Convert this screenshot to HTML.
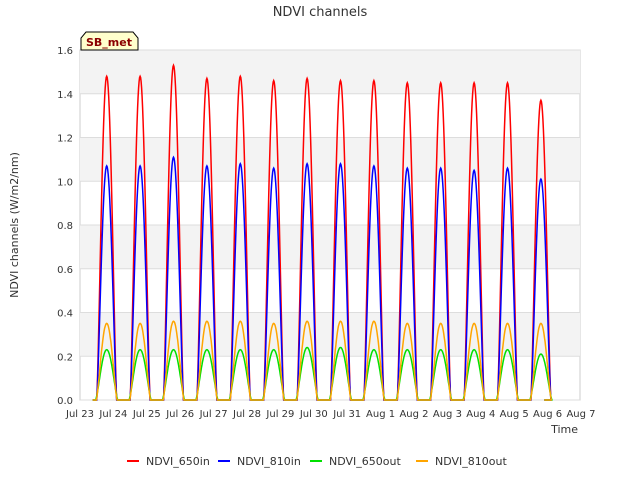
<!DOCTYPE html>
<html><head><meta charset="utf-8"><style>
body{margin:0;background:#fff;font-family:"Liberation Sans","DejaVu Sans",sans-serif;}
svg text{font-family:"DejaVu Sans","Liberation Sans",sans-serif;}
</style></head><body>
<svg id="c" width="640" height="480" xmlns="http://www.w3.org/2000/svg">
<text x="320" y="16" text-anchor="middle" font-size="13" fill="#333">NDVI channels</text>
<rect x="80" y="50" width="500" height="350" fill="#fff" stroke="#ccc"/>
<g id="grid"></g>
<g id="series"></g>
<g id="axes"></g>
<text x="18" y="225" transform="rotate(-90 18 225)" text-anchor="middle" font-size="11" fill="#333">NDVI channels (W/m2/nm)</text>
<text x="578" y="433" text-anchor="end" font-size="11" fill="#333">Time</text>
<g>
<path d="M81,50 L81,38 L86,32 L133,32 L138,38 L138,50 Z" fill="#ffffcc" stroke="#000"/>
<text x="109" y="46" text-anchor="middle" font-size="11" font-weight="bold" fill="#8b0000">SB_met</text>
</g>
<g id="legend"></g>
</svg>
<script>
const days=["Jul 23","Jul 24","Jul 25","Jul 26","Jul 27","Jul 28","Jul 29","Jul 30","Jul 31","Aug 1","Aug 2","Aug 3","Aug 4","Aug 5","Aug 6","Aug 7"];
const yTicks=[0,0.2,0.4,0.6,0.8,1.0,1.2,1.4,1.6];
const seriesNames=["NDVI_650in","NDVI_810in","NDVI_650out","NDVI_810out"];
const seriesColors=["#ff0000","#0000ff","#00e000","#ffa500"];
const peak650in=[1.48,1.48,1.53,1.47,1.48,1.46,1.47,1.46,1.46,1.45,1.45,1.45,1.45,1.37];
const peak810in=[1.07,1.07,1.11,1.07,1.08,1.06,1.08,1.08,1.07,1.06,1.06,1.05,1.06,1.01];
const peak650out=[0.23,0.23,0.23,0.23,0.23,0.23,0.24,0.24,0.23,0.23,0.23,0.23,0.23,0.21];
const peak810out=[0.35,0.35,0.36,0.36,0.36,0.35,0.36,0.36,0.36,0.35,0.35,0.35,0.35,0.35];
const peaks=[peak650in,peak810in,peak650out,peak810out];
const halfWidths=[0.3,0.3,0.33,0.31];
const NS="http://www.w3.org/2000/svg";
const X=d=>80+d*(501/15), Y=v=>400-v*218.75;
function mk(t,a,p){const e=document.createElementNS(NS,t);for(const k in a)e.setAttribute(k,a[k]);p.appendChild(e);return e;}
const grid=document.getElementById('grid'),axes=document.getElementById('axes'),ser=document.getElementById('series'),leg=document.getElementById('legend');
for(let i=0;i<yTicks.length-1;i++){if(i%2===1){const r=mk('rect',{x:80,y:Y(yTicks[i+1]),width:500,height:Y(yTicks[i])-Y(yTicks[i+1]),fill:'#f3f3f3'},grid);

}}
yTicks.forEach(v=>{const l=mk('line',{x1:80,x2:580,y1:Y(v),y2:Y(v),stroke:'#ddd'},grid);


const t=mk('text',{x:73,y:Y(v)+4,'text-anchor':'end','font-size':10,fill:'#333'},axes);t.textContent=v.toFixed(1);

});
days.forEach((d,i)=>{const t=mk('text',{x:X(i),y:417,'text-anchor':'middle','font-size':10,fill:'#333'},axes);t.textContent=d;

});
const peakT=0.8;
peaks.forEach((arr,s)=>{let pts=[];const hw=halfWidths[s];
pts.push([X(0.38),Y(0)]);
arr.forEach((pk,i)=>{const c=i+peakT;
pts.push([X(c-hw-0.02),Y(0)]);
for(let k=-20;k<=20;k++){const t=c+hw*k/20;const v=pk*Math.pow(Math.cos(Math.PI/2*k/20),1.3);pts.push([X(t),Y(v)]);}
pts.push([X(c+hw+0.02),Y(0)]);});
pts.push([X(13.9),Y(0)]);
const p=mk('polyline',{points:pts.map(q=>q[0].toFixed(1)+','+q[1].toFixed(1)).join(' '),fill:'none',stroke:seriesColors[s],'stroke-width':1.5},ser);

});
const lx=[127,218,310,416];
seriesNames.forEach((n,i)=>{const g=mk('g',{},leg);


mk('line',{x1:lx[i],x2:lx[i]+12,y1:461,y2:461,stroke:seriesColors[i],'stroke-width':2},g);
const t=mk('text',{x:lx[i]+19,y:465,'font-size':11,fill:'#333'},g);t.textContent=n;});
</script>
</body></html>
